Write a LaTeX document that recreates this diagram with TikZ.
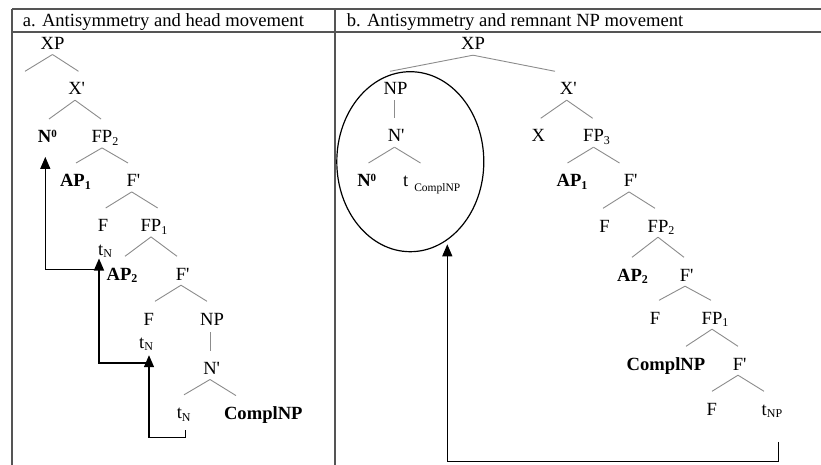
\documentclass[tikz,border=0pt]{standalone}
\usepackage{fontspec}
\setmainfont{Liberation Serif}[Ligatures=TeXOff]
\usetikzlibrary{arrows.meta,calc,shapes.geometric}
\definecolor{rulec}{RGB}{85,85,85}
\definecolor{branchc}{RGB}{140,140,140}
\newcommand\tsub[1]{\rlap{\raisebox{-2.5pt}{\fontsize{12}{12}\selectfont #1}}}
\newcommand\tsup[1]{\rlap{\raisebox{5.5pt}{\fontsize{11}{11}\selectfont #1}}}
\newcommand\tpr{\rlap{'}}
\newcommand\tbr[3]{\draw[branch] ($(#1.south)+(0,-5pt)$) -- ($(#2.north -| #1.south)+(#3,11pt)$);}
\begin{document}
\begin{tikzpicture}[x=1pt,y=-1pt,
  lab/.style={inner sep=0pt, text height=12.5pt, text depth=0pt, anchor=base, font=\fontsize{18.6}{22}\selectfont},
  blab/.style={lab, font=\fontsize{18.6}{22}\selectfont\bfseries},
  hdr/.style={inner sep=0pt, anchor=base west, font=\fontsize{18.6}{22}\selectfont},
  branch/.style={draw=branchc, line width=0.9pt},
  mv/.style={draw=black, line width=1.3pt, -{Triangle[length=12pt,width=10pt]}},
  rule/.style={draw=rulec, line width=1.4pt}]
\fill[white] (0,0) rectangle (821,465);
\useasboundingbox (0,0) rectangle (821,465);
% table
\draw[rule] (12,9) -- (821,9);
\draw[rule] (12,32) -- (821,32);
\draw[rule] (12,9) -- (12,465);
\draw[rule] (335,9) -- (335,465);
\node[hdr] (ha) at (22.7,26.5) {a. Antisymmetry and head movement};
\node[hdr] (hb) at (346.7,26.5) {b. Antisymmetry and remnant NP movement};
% ---------- panel a ----------
\node[lab]  (aXP)  at (52.5,49.3) {XP};
\coordinate (aspec) at (25,71.3);
\node[lab]  (aX1)  at (75,95) {X\tpr};
\node[blab] (aN0)  at (44.7,142.7) {N\tsup{0}};
\node[lab]  (aFP2) at (102,142.7) {FP\tsub{2}};
\node[blab] (aAP1) at (72.4,186.7) {AP\tsub{1}};
\node[lab]  (aF1)  at (131.7,186.7) {F\tpr};
\node[lab]  (aF2)  at (103,231.7) {F};
\node[lab]  (aFP1) at (151,231.7) {FP\tsub{1}};
\node[lab]  (at1)  at (100.8,255) {t\tsub{N}};
\node[blab] (aAP2) at (119,280) {AP\tsub{2}};
\node[lab]  (aF3)  at (181,280) {F\tpr};
\node[lab]  (aF4)  at (148.7,325) {F};
\node[lab]  (aNP)  at (212,325) {NP};
\node[lab]  (at2)  at (141.8,348.3) {t\tsub{N}};
\node[lab]  (aN1)  at (210,374.3) {N\tpr};
\node[lab]  (at3)  at (179.4,418.5) {t\tsub{N}};
\node[blab] (aC)   at (263.3,419.3) {ComplNP};
\draw[branch] ($(aXP.south)+(0,-5pt)$) -- (aspec);
\tbr{aXP}{aX1}{26pt}
\tbr{aX1}{aN0}{-26pt}
\tbr{aX1}{aFP2}{26pt}
\tbr{aFP2}{aAP1}{-26pt}
\tbr{aFP2}{aF1}{26pt}
\tbr{aF1}{aF2}{-26pt}
\tbr{aF1}{aFP1}{26pt}
\tbr{aFP1}{aAP2}{-26pt}
\tbr{aFP1}{aF3}{26pt}
\tbr{aF3}{aF4}{-26pt}
\tbr{aF3}{aNP}{26pt}
\draw[branch] ($(aNP.south -| aN1.north)+(0,-7pt)$) -- ($(aN1.north)+(0,11pt)$);
\tbr{aN1}{at3}{-26pt}
\tbr{aN1}{aC}{26pt}
\draw[mv] ($(at3.south)+(6.3pt,-11.5pt)$) -- ++(0,-7.3pt) -| ($(at2.south)+(7.2pt,-6.7pt)$);
\draw[mv] ($(at2.south)+(7.2pt,-14.4pt)$) -| ($(at1.south)+(-1.8pt,-3.3pt)$);
\draw[mv] ($(at1.south)+(-1.8pt,-14.3pt)$) -| ($(aN0.south)+(0.6pt,-14pt)$);
% ---------- panel b ----------
\node[draw=black, line width=1.2pt, ellipse, minimum width=147pt, minimum height=180pt, inner sep=0pt] (circ) at (410.3,161.7) {};
\node[lab]  (bXP)  at (473,50) {XP};
\node[lab]  (bNP)  at (395.5,95) {NP};
\node[lab]  (bX1)  at (566.7,95) {X\tpr};
\node[lab]  (bN1)  at (394.5,142) {N\tpr};
\node[lab]  (bX)   at (538.3,142) {X};
\node[lab]  (bFP3) at (593.5,142) {FP\tsub{3}};
\node[blab] (bN0)  at (364,186.7) {N\tsup{0}};
\node[lab]  (btC)  at (405.7,186.7) {t\rlap{\hspace{6pt}\raisebox{-5pt}{\fontsize{11.5}{12}\selectfont ComplNP}}};
\node[blab] (bAP1) at (569,186.7) {AP\tsub{1}};
\node[lab]  (bF1)  at (629,186.7) {F\tpr};
\node[lab]  (bF2)  at (604.5,232) {F};
\node[lab]  (bFP2) at (658,232) {FP\tsub{2}};
\node[blab] (bAP2) at (629.5,281) {AP\tsub{2}};
\node[lab]  (bF3)  at (685,281) {F\tpr};
\node[lab]  (bF4)  at (655,324) {F};
\node[lab]  (bFP1) at (712,324) {FP\tsub{1}};
\node[blab] (bC)   at (666,370) {ComplNP};
\node[lab]  (bF5)  at (738,370) {F\tpr};
\node[lab]  (bF6)  at (711.7,415) {F};
\node[lab]  (btNP) at (764.3,415) {t\tsub{NP}};
\tbr{bXP}{bNP}{-83pt}
\tbr{bXP}{bX1}{82pt}
\draw[branch] ($(bNP.south -| bN1.north)+(0,-5pt)$) -- ($(bN1.north)+(0,11pt)$);
\tbr{bN1}{bN0}{-26pt}
\tbr{bN1}{btC}{26pt}
\tbr{bX1}{bX}{-26pt}
\tbr{bX1}{bFP3}{26pt}
\tbr{bFP3}{bAP1}{-26pt}
\tbr{bFP3}{bF1}{26pt}
\tbr{bF1}{bF2}{-26pt}
\tbr{bF1}{bFP2}{26pt}
\tbr{bFP2}{bAP2}{-26pt}
\tbr{bFP2}{bF3}{26pt}
\tbr{bF3}{bF4}{-26pt}
\tbr{bF3}{bFP1}{26pt}
\tbr{bFP1}{bC}{-26pt}
\tbr{bFP1}{bF5}{26pt}
\tbr{bF5}{bF6}{-26pt}
\tbr{bF5}{btNP}{26pt}
\draw[mv] ($(btNP.south)+(14pt,-26.7pt)$) -- ++(0,-19.3pt) -| ($(circ.center)+(37pt,-82.6pt)$);
\end{tikzpicture}
\end{document}
